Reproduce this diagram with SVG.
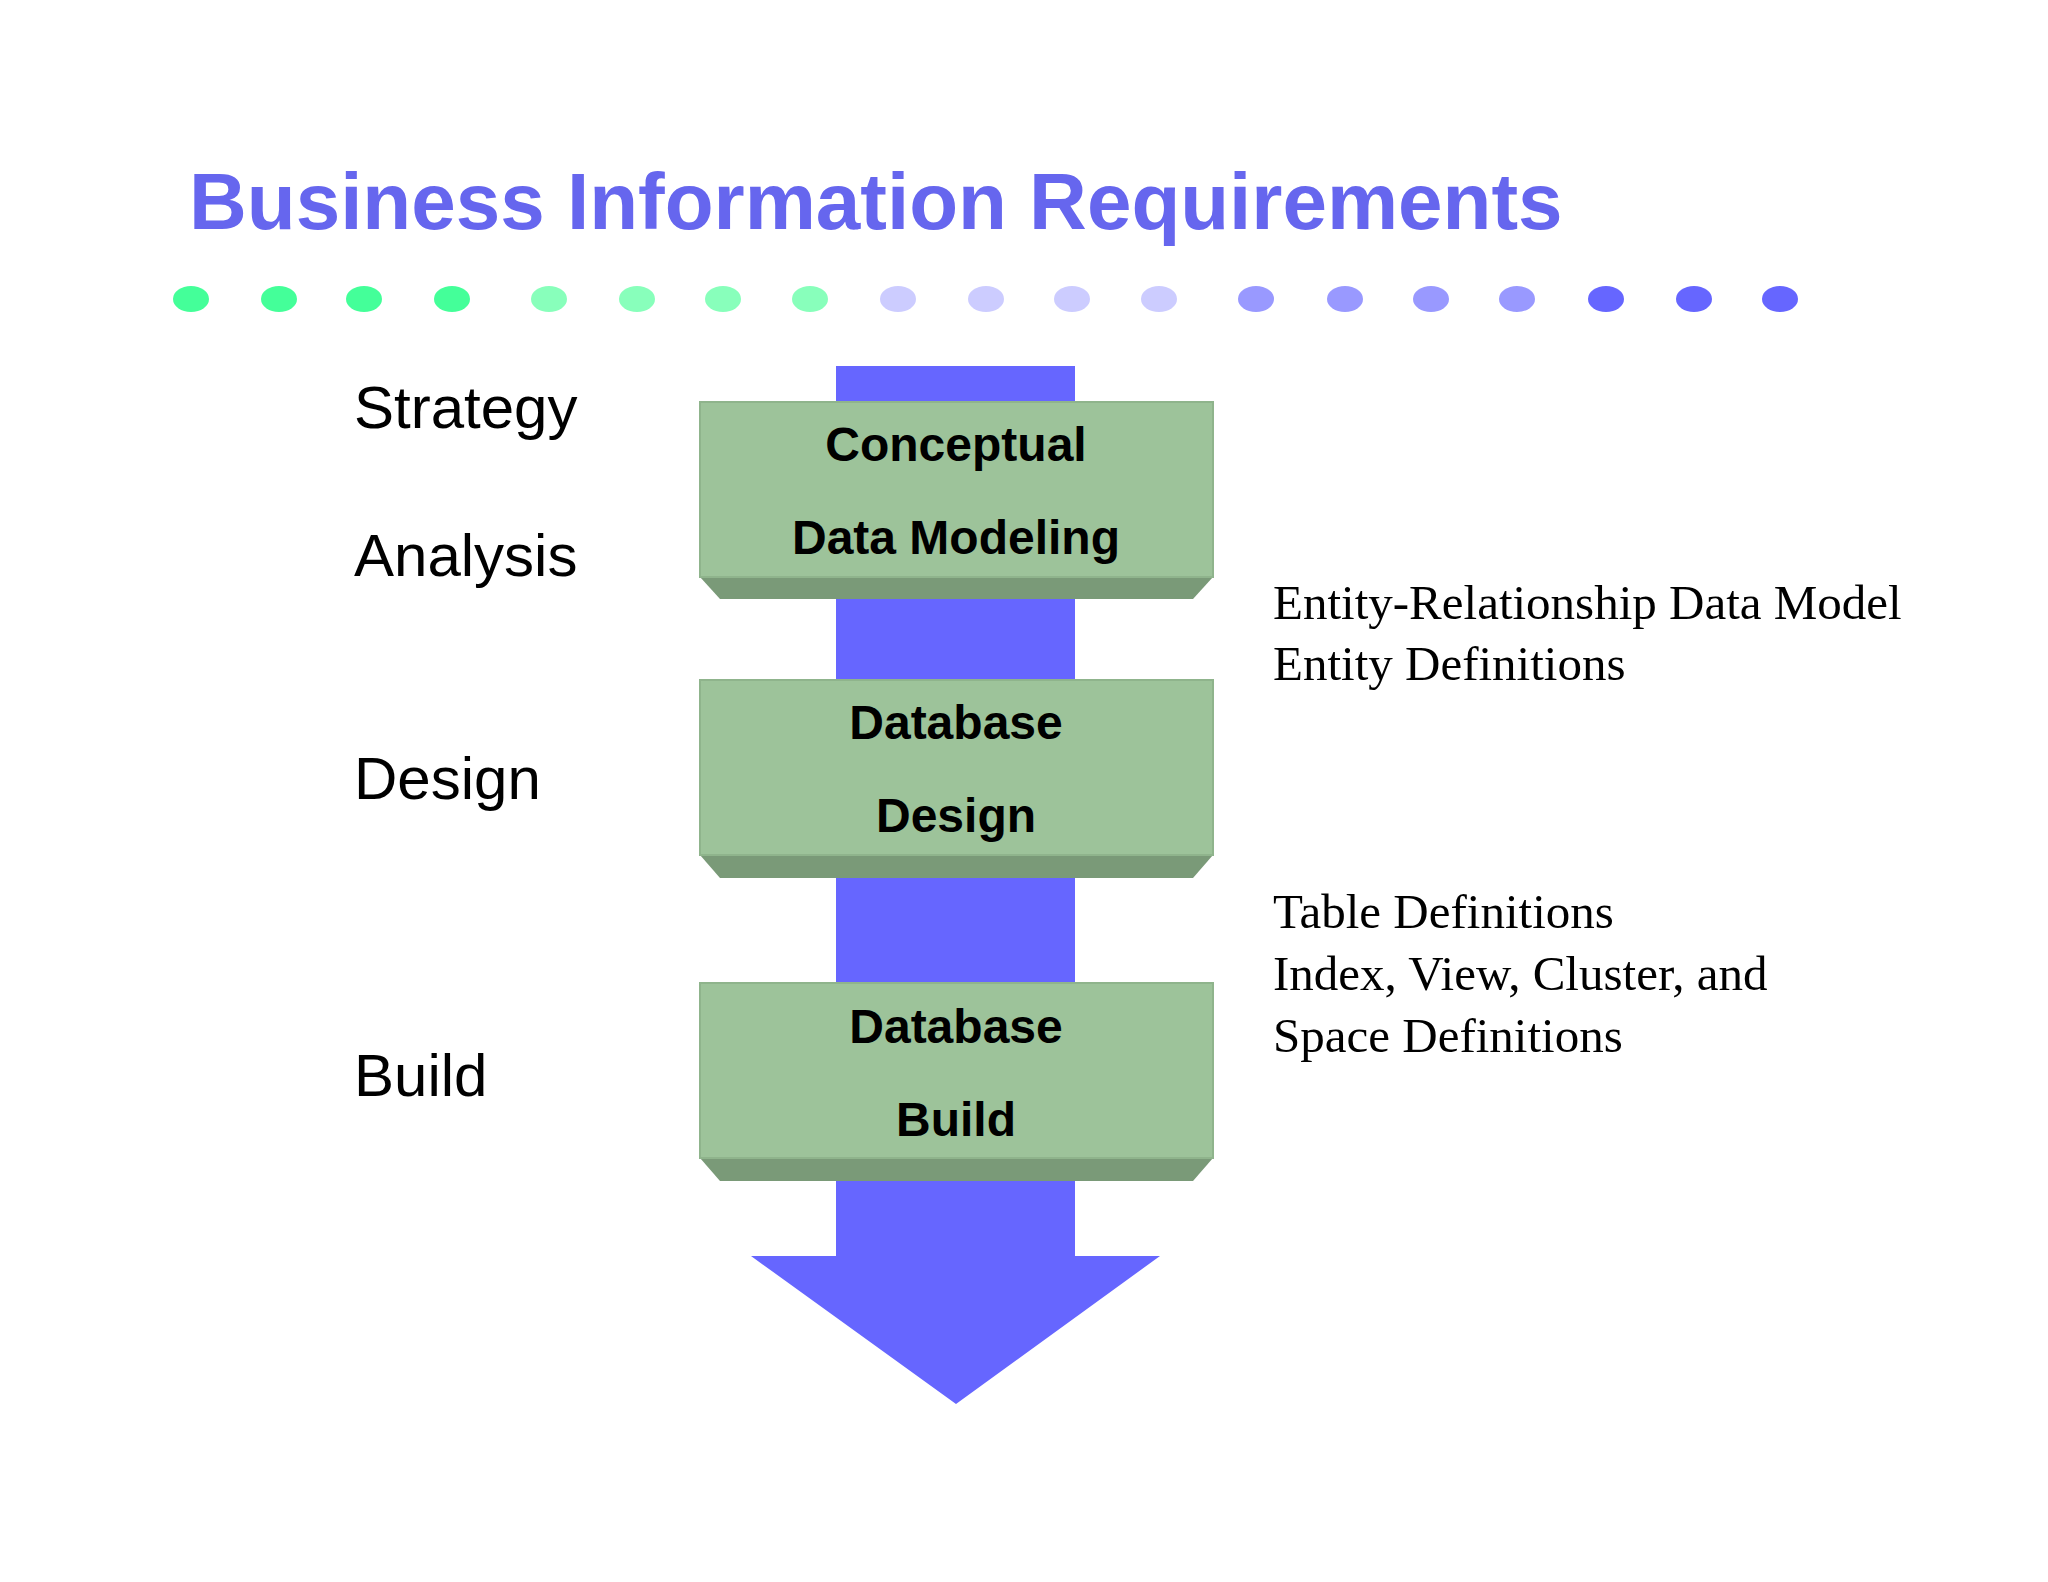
<svg xmlns="http://www.w3.org/2000/svg" width="2048" height="1582" viewBox="0 0 2048 1582">
<style>
.box{fill:#9dc39a;stroke:#8fb48c;stroke-width:2}
.bev{fill:#7a9a78}
.bt{font-family:"Liberation Sans",Arial,sans-serif;font-weight:bold;font-size:48px;text-anchor:middle;fill:#000}
.lt{font-family:"Liberation Sans",Arial,sans-serif;font-size:60px;fill:#000}
.rt{font-family:"Liberation Serif","Times New Roman",serif;font-size:49px;fill:#000}
</style>
<defs><ellipse id="d" rx="18" ry="13"/></defs>
<rect width="2048" height="1582" fill="#fff"/>
<text x="189" y="229" font-family="Liberation Sans,Arial,sans-serif" font-weight="bold" font-size="80" fill="#6666ee">Business Information Requirements</text>
<g id="dots">
<g fill="#44ff99"><use href="#d" x="191" y="299"/><use href="#d" x="279" y="299"/><use href="#d" x="364" y="299"/><use href="#d" x="452" y="299"/></g>
<g fill="#88ffbb"><use href="#d" x="549" y="299"/><use href="#d" x="637" y="299"/><use href="#d" x="723" y="299"/><use href="#d" x="810" y="299"/></g>
<g fill="#ccccff"><use href="#d" x="898" y="299"/><use href="#d" x="986" y="299"/><use href="#d" x="1072" y="299"/><use href="#d" x="1159" y="299"/></g>
<g fill="#9999ff"><use href="#d" x="1256" y="299"/><use href="#d" x="1345" y="299"/><use href="#d" x="1431" y="299"/><use href="#d" x="1517" y="299"/></g>
<g fill="#6666ff"><use href="#d" x="1606" y="299"/><use href="#d" x="1694" y="299"/><use href="#d" x="1780" y="299"/></g>
</g>
<g id="connectors">
<path d="M836 366H1075V1256H1160L956 1404L751 1256H836Z" fill="#6666ff"/>
</g>
<g id="n1"><path class="bev" d="M700 577H1213L1193 599H720Z"/><rect class="box" x="700" y="402" width="513" height="175"/>
<text class="bt" x="956" y="461">Conceptual</text><text class="bt" x="956" y="554">Data Modeling</text></g>
<g id="n2"><path class="bev" d="M700 855H1213L1193 878H720Z"/><rect class="box" x="700" y="680" width="513" height="175"/>
<text class="bt" x="956" y="739">Database</text><text class="bt" x="956" y="832">Design</text></g>
<g id="n3"><path class="bev" d="M700 1158H1213L1193 1181H720Z"/><rect class="box" x="700" y="983" width="513" height="175"/>
<text class="bt" x="956" y="1043">Database</text><text class="bt" x="956" y="1136">Build</text></g>
<g id="labels">
<text class="lt" x="354" y="428">Strategy</text>
<text class="lt" x="354" y="576">Analysis</text>
<text class="lt" x="354" y="799">Design</text>
<text class="lt" x="354" y="1096">Build</text>
<text class="rt" x="1273" y="619">Entity-Relationship Data Model</text>
<text class="rt" x="1273" y="680">Entity Definitions</text>
<text class="rt" x="1273" y="928">Table Definitions</text>
<text class="rt" x="1273" y="990">Index, View, Cluster, and</text>
<text class="rt" x="1273" y="1052">Space Definitions</text>
</g>
</svg>
